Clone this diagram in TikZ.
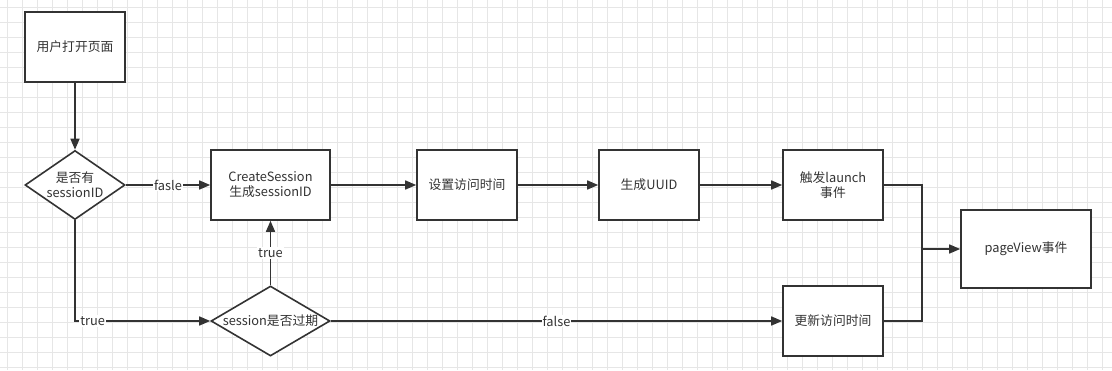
\documentclass[tikz,border=0pt]{standalone}
\usepackage{fontspec}
\setmainfont{Noto Sans CJK SC}
\usetikzlibrary{arrows.meta,shapes.geometric}
\definecolor{ink}{HTML}{333333}
\definecolor{gridgray}{HTML}{E6E6E6}
\tikzset{
  box/.style={draw=ink, line width=1.6pt, fill=white, minimum width=100pt, minimum height=70pt, align=center, text=ink, inner sep=2pt},
  choice/.style={draw=ink, line width=1.6pt, fill=white, diamond, aspect=1.43, minimum width=100pt, minimum height=70pt, inner sep=-4pt, align=center, text=ink},
  flow/.style={draw=ink, line width=1.6pt, -{Triangle[length=11pt,width=9pt]}},
  link/.style={draw=ink, line width=1.6pt},
  tag/.style={fill=white, text=ink, inner sep=1pt}
}
\begin{document}
\begin{tikzpicture}[x=1pt, y=-1pt, font=\fontsize{12.8}{15}\selectfont]
    \useasboundingbox (0,0) rectangle (1112,370);
    % grid
    \fill[white] (0,0) rectangle (1112,370);
    \foreach \gx in {7,22,...,1112} \draw[gridgray, line width=0.6pt] (\gx,0) -- (\gx,370);
    \foreach \gy in {7,22,...,370} \draw[gridgray, line width=0.6pt] (0,\gy) -- (1112,\gy);
    % nodes
    \node[box] (open) at (75,47) {用户打开页面};
    \node[choice, minimum width=100pt, minimum height=69pt] (hasid) at (75,185) {是否有\\sessionID};
    \node[box, minimum width=119pt] (create) at (270.5,185) {CreateSession\\生成sessionID};
    \node[box] (settime) at (467,185) {设置访问时间};
    \node[box] (uuid) at (649,185) {生成UUID};
    \node[box] (launch) at (833,185) {触发launch\\事件};
    \node[choice, minimum width=119pt, minimum height=70pt, inner sep=-6pt] (expire) at (270.5,321) {session是否过期};
    \node[box] (update) at (833,321) {更新访问时间};
    \node[box, minimum width=130pt, minimum height=78pt] (pageview) at (1026,249) {pageView事件};
    \coordinate (corner) at (75,321);
    \coordinate (join) at (922,249);
    % lines
    \draw[flow] (open) -- (hasid);
    \draw[flow] (hasid) -- node[tag] {fasle} (create);
    \draw[flow] (hasid) -- (corner) -- node[tag, pos=0.13] {true} (expire);
    \draw[flow] (expire) -- node[tag] {true} (create);
    \draw[flow] (expire) -- node[tag] {false} (update);
    \draw[flow] (create) -- (settime);
    \draw[flow] (settime) -- (uuid);
    \draw[flow] (uuid) -- (launch);
    \draw[flow] (launch.east) -| (join) -- (pageview);
    \draw[link] (update.east) -| (join);
\end{tikzpicture}
\end{document}
